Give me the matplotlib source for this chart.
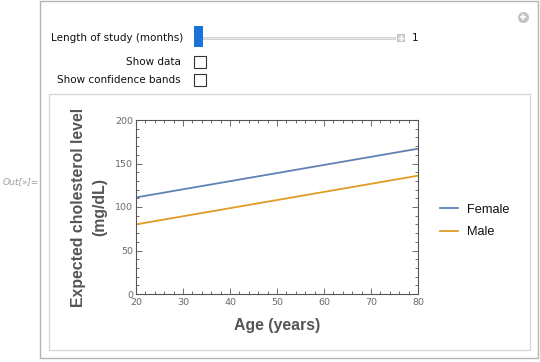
import matplotlib
matplotlib.use("Agg")
import matplotlib.pyplot as plt
from matplotlib.patches import Rectangle
from matplotlib.lines import Line2D
from matplotlib.ticker import MultipleLocator

# Data
ages = [20, 80]
female = [111, 167]
male = [80, 136]
series_names = ["Female", "Male"]
series_colors = ["#5E81B5", "#E19C24"]
xticks = [20, 30, 40, 50, 60, 70, 80]
yticks = [0, 50, 100, 150, 200]

W, H = 540, 362
fig = plt.figure(figsize=(W/100, H/100), dpi=100)
fig.patch.set_facecolor("white")

def fx(px): return px / W
def fy(py): return 1 - py / H

# Outer panel
fig.patches.append(Rectangle((fx(40), fy(358)), fx(498), 357/H, transform=fig.transFigure,
                             fill=False, edgecolor="#B4B4B4", lw=1.0))
# inner graphics box
fig.patches.append(Rectangle((fx(49), fy(350)), fx(481), 256/H, transform=fig.transFigure,
                             fill=False, edgecolor="#D8D8D8", lw=1.0))

# Out label
fig.text(fx(3), fy(182), "Out[»]=", fontsize=6.5, color="#9A9A9A", style="italic",
         va="center", ha="left", family="DejaVu Sans")

# corner icon
fig.add_artist(Line2D([fx(523)], [fy(17)], transform=fig.transFigure, marker="o",
                      markersize=8, markerfacecolor="#C4C4C4", markeredgecolor="none"))
fig.add_artist(Line2D([fx(523)], [fy(17)], transform=fig.transFigure, marker="+",
                      markersize=5, markeredgecolor="white", markeredgewidth=1.2))

# Controls
lab_kw = dict(fontsize=7.5, color="#111111", ha="right", va="center", family="DejaVu Sans")
fig.text(fx(183), fy(38), "Length of study (months)", **lab_kw)
fig.text(fx(181), fy(62), "Show data", **lab_kw)
fig.text(fx(181), fy(80), "Show confidence bands", **lab_kw)

# slider track
fig.patches.append(Rectangle((fx(200), fy(39)), fx(195), 2.5/H, transform=fig.transFigure,
                             facecolor="#E6E6E6", edgecolor="#C8C8C8", lw=0.5))
# thumb
fig.patches.append(Rectangle((fx(194), fy(47)), fx(9), 21/H, transform=fig.transFigure,
                             facecolor="#1874D8", edgecolor="none"))
# plus box
fig.patches.append(Rectangle((fx(397), fy(41)), fx(7), 7/H, transform=fig.transFigure,
                             facecolor="#D0D0D0", edgecolor="#B0B0B0", lw=0.5))
fig.add_artist(Line2D([fx(400.5)], [fy(37.5)], transform=fig.transFigure, marker="+",
                      markersize=4, markeredgecolor="white", markeredgewidth=1.0))
fig.text(fx(412), fy(38), "1", fontsize=7.5, color="#111111", ha="left", va="center")

# checkboxes
for cy in (62, 80):
    fig.patches.append(Rectangle((fx(194), fy(cy + 6)), fx(12), 12/H, transform=fig.transFigure,
                                 facecolor="white", edgecolor="#333333", lw=0.8))

# Plot axes
ax = fig.add_axes([fx(136), fy(294), fx(282), 174/H])
ax.plot(ages, female, color=series_colors[0], lw=1.3, label=series_names[0])
ax.plot(ages, male, color=series_colors[1], lw=1.3, label=series_names[1])
ax.set_xlim(20, 80)
ax.set_ylim(0, 200)
ax.set_xticks(xticks)
ax.set_yticks(yticks)
ax.xaxis.set_minor_locator(MultipleLocator(2))
ax.yaxis.set_minor_locator(MultipleLocator(10))
ax.tick_params(which="both", direction="in", top=True, right=True, color="#555555",
               labelsize=6.8, labelcolor="#6A6A6A", width=0.6)
ax.tick_params(axis="x", pad=3)
ax.tick_params(axis="y", pad=2)
ax.tick_params(which="major", length=4)
ax.tick_params(which="minor", length=2)
ax.tick_params(top=True, right=True, labeltop=False, labelright=False)
for s in ax.spines.values():
    s.set_color("#555555")
    s.set_linewidth(0.8)

lbl = dict(fontsize=11.4, weight="bold", color="#555555", family="Liberation Sans")
ax.set_xlabel("Age (years)", labelpad=8, **lbl)
ax.set_ylabel("Expected cholesterol level\n(mg/dL)", labelpad=6, linespacing=1.5, **lbl)

leg = fig.legend(loc="center left", bbox_to_anchor=(fx(440), fy(221)), frameon=False,
                 prop={"family": "Liberation Sans", "size": 9.2}, handlelength=1.4,
                 handletextpad=0.75, labelspacing=0.85, borderpad=0, borderaxespad=0)
for t in leg.get_texts():
    t.set_color("#111111")

fig.savefig("out.png", dpi=100)
